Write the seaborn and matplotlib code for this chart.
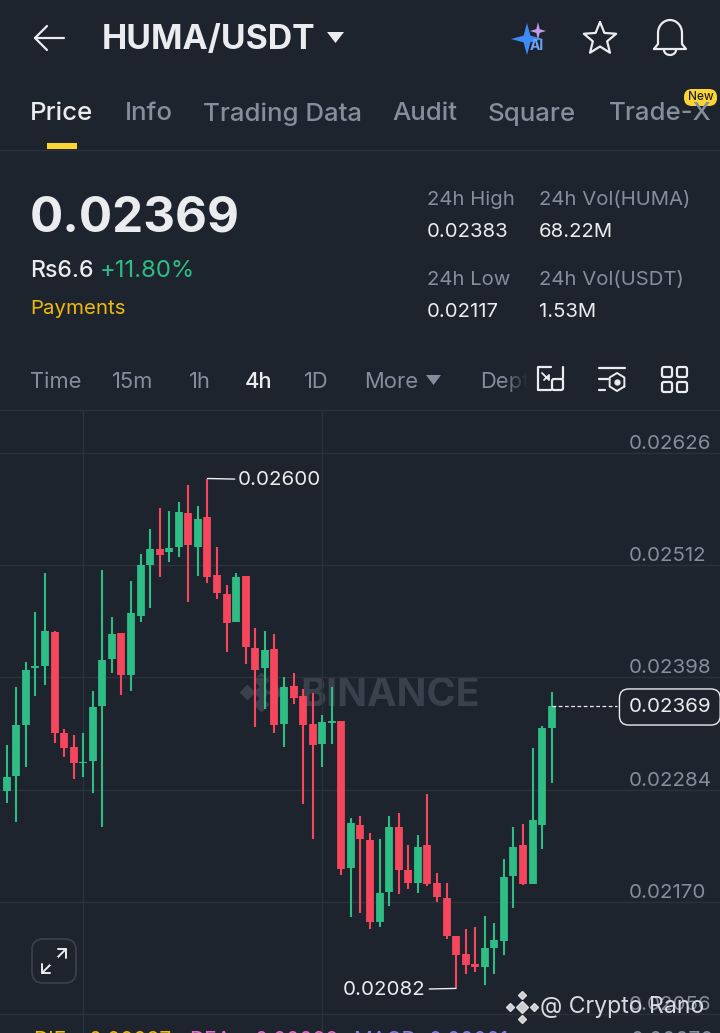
import matplotlib
matplotlib.use("Agg")
import matplotlib.pyplot as plt
from matplotlib.patches import FancyBboxPatch, Polygon, Rectangle
import numpy as np
import pandas as pd
import seaborn as sns

# OHLC, in units of 0.00001 USDT
opens = [2262, 2283, 2298, 2350, 2408, 2410, 2444, 2341, 2327, 2311, 2313, 2369, 2417, 2443, 2400,
         2460, 2512, 2528, 2525, 2530, 2565, 2530, 2561, 2502, 2483, 2454, 2501, 2428, 2407, 2427,
         2351, 2389, 2379, 2351, 2330, 2352, 2354, 2204, 2248, 2233, 2149, 2180, 2246, 2202, 2189,
         2228, 2189, 2174, 2135, 2117, 2107, 2104, 2123, 2130, 2196, 2228, 2188, 2248, 2347]
closes = [2281, 2297, 2350, 2405, 2410, 2445, 2341, 2326, 2311, 2312, 2368, 2416, 2442, 2400, 2463,
          2512, 2528, 2522, 2529, 2566, 2532, 2559, 2500, 2484, 2453, 2500, 2429, 2405, 2426, 2350,
          2388, 2377, 2350, 2329, 2353, 2354, 2203, 2250, 2234, 2149, 2179, 2246, 2202, 2189, 2226,
          2188, 2175, 2135, 2116, 2106, 2104, 2123, 2131, 2195, 2226, 2188, 2253, 2347, 2369]
highs = [2294, 2329, 2388, 2414, 2464, 2504, 2445, 2346, 2339, 2341, 2384, 2507, 2459, 2443, 2496,
         2523, 2549, 2570, 2567, 2576, 2593, 2572, 2600, 2530, 2492, 2504, 2501, 2448, 2445, 2442,
         2398, 2402, 2386, 2382, 2360, 2388, 2354, 2255, 2257, 2240, 2234, 2257, 2260, 2228, 2238,
         2279, 2199, 2189, 2135, 2142, 2144, 2156, 2148, 2213, 2246, 2249, 2326, 2349, 2383]
lows = [2258, 2270, 2251, 2307, 2379, 2390, 2331, 2317, 2295, 2297, 2281, 2246, 2402, 2380, 2384,
        2454, 2468, 2500, 2515, 2520, 2475, 2501, 2494, 2478, 2424, 2454, 2412, 2348, 2366, 2341,
        2327, 2371, 2269, 2234, 2307, 2330, 2197, 2155, 2159, 2142, 2144, 2166, 2178, 2183, 2179,
        2186, 2170, 2132, 2082, 2097, 2099, 2085, 2097, 2116, 2164, 2187, 2188, 2224, 2291]

axis_prices = [0.02626, 0.02512, 0.02398, 0.02284, 0.02170, 0.02056]
last_price = 0.02369
high_label = "0.02600"
low_label = "0.02082"

tabs = [("Price", 30), ("Info", 125), ("Trading Data", 203), ("Audit", 392), ("Square", 488), ("Trade-X", 609)]
stats = [("24h High", "0.02383", 427, 198), ("24h Vol(HUMA)", "68.22M", 539, 198),
         ("24h Low", "0.02117", 427, 278), ("24h Vol(USDT)", "1.53M", 539, 278)]
intervals = [("Time", 30), ("15m", 112), ("1h", 189), ("4h", 245), ("1D", 304), ("More", 364), ("Depth", 480)]
indicators = [("DIF:", 33, "#F0B90B"), ("0.00087", 89, "#F0B90B"), ("DEA:", 189, "#E56BC8"), ("0.00088", 255, "#E56BC8"),
              ("MACD:", 353, "#8E7CE0"), ("0.00001", 429, "#8E7CE0"), ("0.00070", 631, "#848E9C")]

BG = "#1E242E"
GRID = "#2C323C"
GREEN = "#2EBD85"
RED = "#F6465D"
WHITE = "#EAECEF"
GREY = "#848E9C"
YELLOW = "#F0B90B"

sns.set_theme(style="dark", rc={"figure.facecolor": BG, "axes.facecolor": "none", "savefig.facecolor": BG})
plt.rcParams["font.family"] = ["Inter", "DejaVu Sans"]

fig = plt.figure(figsize=(7.2, 10.33), dpi=100)

# Whole-screen overlay in pixel coordinates for the app chrome
ui = fig.add_axes([0, 0, 1, 1], zorder=2)
ui.set_xlim(0, 720)
ui.set_ylim(1033, 0)
ui.axis("off")

ax = fig.add_axes([0, 0, 1, 623 / 1033], zorder=1)

# Candles
frame = pd.DataFrame({"o": opens, "c": closes, "h": highs, "l": lows}) / 1e5
frame["candle"] = np.arange(len(frame))
frame["side"] = np.where(frame["c"] >= frame["o"], "up", "down")
wicks = frame.melt(id_vars=["candle", "side"], value_vars=["h", "l"], value_name="price")
bodies = frame.melt(id_vars=["candle", "side"], value_vars=["o", "c"], value_name="price")
palette = {"up": GREEN, "down": RED}
sns.lineplot(data=wicks, x="candle", y="price", units="candle", hue="side", palette=palette, estimator=None,
             sort=False, legend=False, linewidth=1.5, solid_capstyle="butt", ax=ax)
sns.lineplot(data=bodies, x="candle", y="price", units="candle", hue="side", palette=palette, estimator=None,
             sort=False, legend=False, linewidth=5.6, solid_capstyle="butt", ax=ax)

ax.set_xlim(0.299, 75.6)
ax.set_ylim(0.020367, 0.026696)
ax.set_xlabel("")
ax.set_ylabel("")
ax.set_xticks([9, 34], labels=[])
ax.set_yticks(axis_prices, labels=[f"{p:.5f}" for p in axis_prices])
ax.yaxis.tick_right()
ax.tick_params(axis="y", length=0, pad=-65.5, labelsize=14.8, labelcolor=GREY)
ax.tick_params(axis="x", length=0)
for label in ax.get_yticklabels():
    label.set_verticalalignment("bottom")
ax.grid(True, color=GRID, linewidth=1)
ax.set_axisbelow(True)
sns.despine(ax=ax, left=True, bottom=True, right=True, top=True)

# High, low and last price markers
ax.annotate(high_label, xy=(22, float(high_label)), xytext=(238, 480), textcoords=ui.transData, color=WHITE,
            fontsize=14.8, va="center", arrowprops=dict(arrowstyle="-", color=WHITE, lw=1, shrinkA=0, shrinkB=0))
ax.annotate(low_label, xy=(48, float(low_label)), xytext=(426, 990), textcoords=ui.transData, color=WHITE,
            fontsize=14.8, va="center", ha="right", arrowprops=dict(arrowstyle="-", color=WHITE, lw=1, shrinkA=0, shrinkB=0))
ax.hlines(last_price, 58, 64.8, color=WHITE, linewidth=0.9, linestyles=(0, (3, 2)))
ax.annotate(f"{last_price:.5f}", xy=(628.5, 707), xycoords=ui.transData, color=WHITE, fontsize=14.8, va="center",
            bbox=dict(boxstyle="round,pad=0.44,rounding_size=0.45", fc=BG, ec=WHITE, lw=1))

# Watermark behind the candles
ax.text(300, 695, "BINANCE", transform=ui.transData, color="#3A414C", fontsize=28.3, fontweight="bold", va="center", zorder=0)
for dx, dy, s in [(247, 692, 7), (261, 680, 7), (261, 692, 7), (261, 704, 7), (275, 692, 7)]:
    ax.plot(dx, dy, marker="D", ms=s, color="#3A414C", transform=ui.transData, zorder=0)


def say(x, y, s, color=WHITE, size=15, weight="normal", ha="left"):
    ui.text(x, y + 2, s, color=color, fontsize=size, fontweight=weight, ha=ha, va="center")


def stroke(xs, ys, lw=1.6, color=WHITE):
    ui.plot(xs, ys, color=color, lw=lw, solid_capstyle="round", solid_joinstyle="round", zorder=6)


def box(x, y, w, h, r=2, ec=WHITE, fc="none", lw=1.6):
    ui.add_patch(FancyBboxPatch((x + r, y + r), w - 2 * r, h - 2 * r, boxstyle=f"round,pad={r},rounding_size={r}",
                                ec=ec, fc=fc, lw=lw, zorder=2))


# Header
stroke([35, 64], [38, 38])
stroke([47, 35, 47], [26, 38, 50])
say(102, 38, "HUMA/USDT", size=24.3, weight="bold")
ui.add_patch(Polygon([(327, 32), (344, 32), (335.5, 43)], fc=WHITE, ec="none"))

a = np.linspace(0, 2 * np.pi, 9)[:-1]
rad = np.where(np.arange(8) % 2 == 0, 1.0, 0.3)
ui.add_patch(Polygon(np.c_[527 + 16 * rad * np.sin(a), 39 + 16 * rad * np.cos(a)], fc="#3E8BF5", ec="none"))
ui.add_patch(Polygon(np.c_[538 + 8 * rad * np.sin(a), 31 + 9 * rad * np.cos(a)], fc="#C49BE8", ec="none"))
say(530, 44, "AI", color="#6FA4F5", size=10, weight="bold")

a = np.linspace(0, 2 * np.pi, 11) + np.pi
rad = np.where(np.arange(11) % 2 == 0, 17.0, 7.5)
stroke(600 + rad * np.sin(a), 39 + rad * np.cos(a))

a = np.linspace(np.pi, 2 * np.pi, 20)
stroke(np.r_[654, 658, 670 + 12 * np.cos(a), 682, 686, 654],
       np.r_[49, 44, 33 + 13 * np.sin(a), 44, 49, 49])
a = np.linspace(0, np.pi, 12)
stroke(670 + 6 * np.cos(a), 50 + 5 * np.sin(a))

# Tabs
for i, (name, x) in enumerate(tabs):
    say(x, 112, name, color=WHITE if i == 0 else GREY, size=18.6, weight="medium")
ui.add_patch(Rectangle((47, 143), 30, 6, fc="#FCD535", ec="none"))
ui.plot([0, 720], [150, 150], color=GRID, lw=1)
box(684, 89, 33, 17, r=8, ec="none", fc="#FCD535")
ui.text(700.5, 97.5, "New", color="#1E2329", fontsize=8.5, fontweight="medium", ha="center", va="center", zorder=5)

# Price summary
say(30, 216, "0.02369", size=35.5, weight="bold")
say(30, 269, "Rs6.6", size=16.6, weight="medium")
say(100, 269, "+11.80%", color=GREEN, size=17.2)
say(30, 307, "Payments", color=YELLOW, size=14.7)
for name, value, x, y in stats:
    say(x, y, name, color=GREY, size=14.6)
    say(x, y + 32, value, size=14.6)

# Interval row
for name, x in intervals:
    say(x, 380, name, color=WHITE if name == "4h" else GREY, size=15.8, weight="medium" if name == "4h" else "normal")
ui.add_patch(Polygon([(426, 375), (441, 375), (433.5, 385)], fc=GREY, ec="none"))
for k in range(12):
    ui.add_patch(Rectangle((504 + k * 2.5, 366), 2.6, 30, fc=BG, ec="none", alpha=min(1, (k + 1) / 10), zorder=4))
ui.add_patch(Rectangle((534, 366), 32, 30, fc=BG, ec="none", zorder=4))
ui.plot([0, 720], [410, 410], color=GRID, lw=1)

stroke([551, 538, 538, 551], [390, 390, 367, 367])
stroke([563, 563], [367, 378])
stroke([542, 549, 549, 544], [373, 380, 375, 380], lw=1.3)
ui.add_patch(FancyBboxPatch((554, 381), 7, 7, boxstyle="round,pad=2,rounding_size=2", ec=WHITE, fc="none", lw=1.6, zorder=6))
stroke([599, 625], [368, 368])
stroke([599, 608], [379, 379])
stroke([599, 605], [390, 390])
a = np.linspace(0, 2 * np.pi, 7) + np.pi / 6
stroke(617 + 8.5 * np.cos(a), 382 + 9 * np.sin(a), lw=1.4)
ui.plot(617, 382, marker="o", ms=3.5, color=WHITE)
for bx in (662, 677):
    for by in (367, 382):
        box(bx, by, 10, 10)

# Expand button, bottom strip and signature
box(32, 939, 44, 44, r=11, ec="#3A414C", lw=1.2)
stroke([42, 66], [973, 949], lw=1.4)
stroke([58, 66, 66], [949, 949, 958], lw=1.4)
stroke([42, 42, 50], [964, 973, 973], lw=1.4)
ui.add_patch(Rectangle((50, 957), 8, 8, fc=BG, ec="none", zorder=7))
for s, x, c in indicators:
    ui.text(x, 1041, s, color=c, fontsize=15, va="center")
for dx, dy, s in [(510, 1007, 4), (522, 995, 4), (534, 1007, 4), (522, 1019, 4), (522, 1007, 6)]:
    ui.plot(dx, dy, marker="D", ms=s, color=WHITE, alpha=0.85)
say(540, 1005, "@ Crypto Rano", color="#D8DBE0", size=16.6)

fig.savefig("out.png", dpi=100, facecolor=BG)
